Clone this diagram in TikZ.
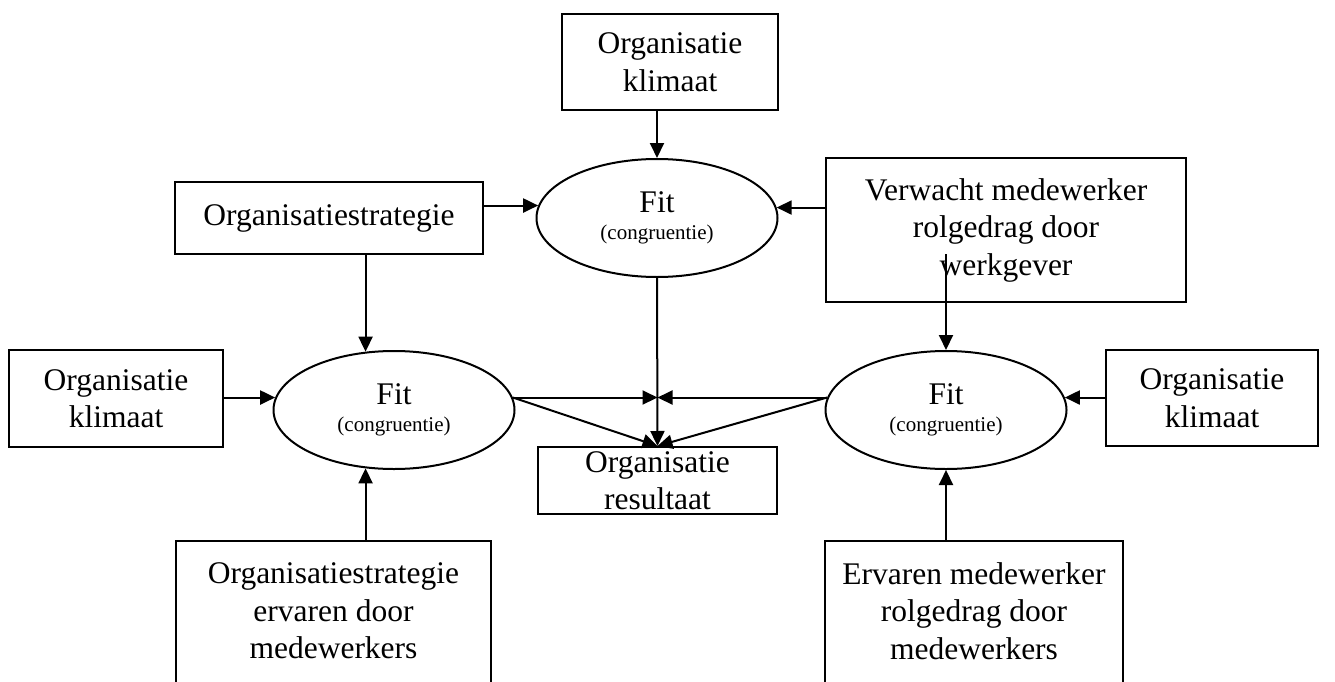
\documentclass[tikz,border=0pt]{standalone}
\usepackage{fontspec}
\setmainfont{Liberation Serif}
\usetikzlibrary{arrows.meta}
\usetikzlibrary{shapes}
\usetikzlibrary{positioning}

\tikzset{
  box/.style={draw, line width=2pt, inner sep=0pt, align=center,
    font=\fontsize{31.5}{37.5}\selectfont},
  fitnode/.style={draw, ellipse, line width=2pt, inner sep=0pt,
    minimum width=241pt, minimum height=118pt, align=center,
    font=\fontsize{31.5}{37.5}\selectfont},
  link/.style={-{Triangle[length=15pt,width=14pt]}, line width=2pt}
}

\begin{document}
\begin{tikzpicture}[x=1pt,y=-1pt]
  \useasboundingbox (0,0) rectangle (1335,682);
  \coordinate (pagebottom) at (0,682);

  %% boxes
  \node[box, minimum width=216pt, minimum height=96pt] (tclim) at (670,62) {Organisatie\\klimaat};
  \node[box, minimum width=308pt, minimum height=72pt] (strat) at (329,218) {Organisatiestrategie};
  \node[box, minimum width=360pt, minimum height=144pt] (verw) at (1006,230) {Verwacht medewerker\\rolgedrag door\\werkgever};
  \node[box, minimum width=214pt, minimum height=97pt] (lclim) at (116,398.5) {Organisatie\\klimaat};
  \node[box, minimum width=212pt, minimum height=96pt] (rclim) at (1212,398) {Organisatie\\klimaat};
  \node[box, minimum width=239pt, minimum height=67pt] (res) at (657.5,480.5) {Organisatie\\resultaat};

  % bottom boxes, cut off by the page
  \node[box, draw=none, minimum width=313pt, minimum height=138pt] (sbot) at (333.5,611) {Organisatiestrategie\\ervaren door\\medewerkers};
  \node[box, draw=none, minimum width=296pt, minimum height=138pt] (ebot) at (974,611) {Ervaren medewerker\\rolgedrag door\\medewerkers};
  \draw[line width=2pt] (sbot.north west |- pagebottom) -- (sbot.north west) -- (sbot.north east) -- (sbot.north east |- pagebottom);
  \draw[line width=2pt] (ebot.north west |- pagebottom) -- (ebot.north west) -- (ebot.north east) -- (ebot.north east |- pagebottom);

  %% fit ellipses
  \node[fitnode] (tfit) at (657,218) {Fit\\[-10pt]{\fontsize{21}{25}\selectfont (congruentie)}};
  \node[fitnode] (lfit) at (394,410) {Fit\\[-10pt]{\fontsize{21}{25}\selectfont (congruentie)}};
  \node[fitnode] (rfit) at (946,410) {Fit\\[-10pt]{\fontsize{21}{25}\selectfont (congruentie)}};

  \coordinate (vtail) at (946,254);
  \coordinate (meet) at (res.north |- lfit.6);

  %% arrows
  % top fit
  \draw[link] (tclim.south -| tfit.north) -- (tfit.north);
  \draw[link] (strat.east |- tfit.174) -- (tfit.174);
  \draw[link] (verw.west |- tfit.5) -- (tfit.5);
  \draw[link] (tfit.south) -- (res.north);

  % left fit
  \draw[link] (strat.south -| lfit.116) -- (lfit.116);
  \draw[link] (lclim.east |- lfit.174) -- (lfit.174);
  \draw[link] (sbot.north -| lfit.244) -- (lfit.244);
  \draw[link] (lfit.6) -- (meet);
  \draw[link] (lfit.6) -- (res.north);

  % right fit
  \draw[link] (vtail) -- (rfit.north);
  \draw[link] (rclim.west |- rfit.6) -- (rfit.6);
  \draw[link] (ebot.north -| rfit.south) -- (rfit.south);
  \draw[link] (rfit.174) -- (meet);
  \draw[link] (rfit.174) -- (res.north);
\end{tikzpicture}
\end{document}
